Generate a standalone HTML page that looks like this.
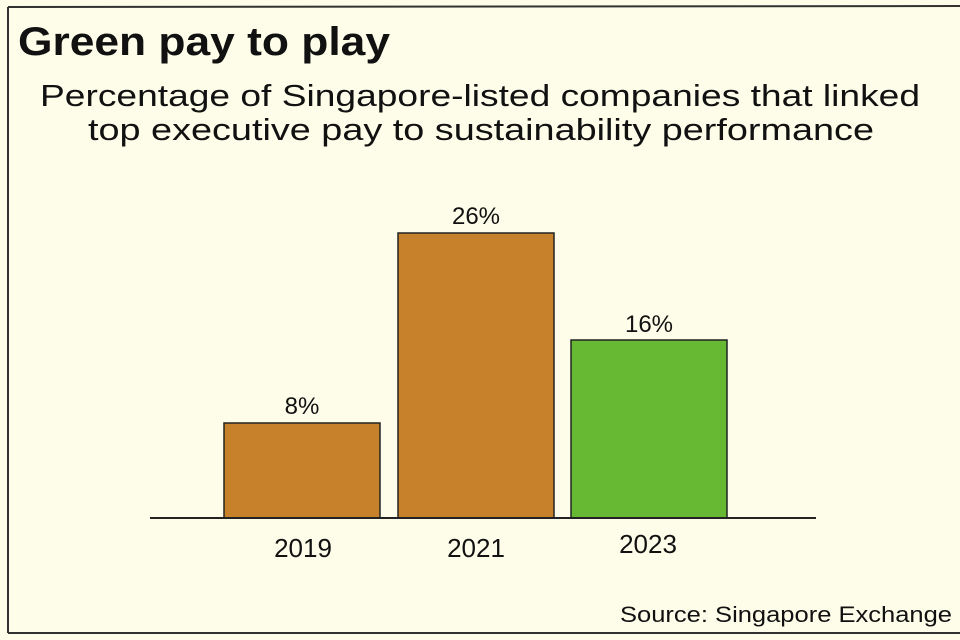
<!DOCTYPE html>
<html><head><meta charset="utf-8"><style>
html,body{margin:0;padding:0;background:#fdfde9;}
svg{display:block;}
text{font-family:"Liberation Sans",sans-serif;fill:#111;}
</style></head><body>
<svg width="960" height="640" viewBox="0 0 960 640" xmlns="http://www.w3.org/2000/svg">
<rect x="0" y="0" width="960" height="640" fill="#fdfde9"/>
<path d="M8 7 L960 6 M8 7 L8 633 M8 633 L960 633" stroke="#333" stroke-width="2" fill="none"/>
<text x="18" y="55" font-size="40" font-weight="bold" textLength="372" lengthAdjust="spacingAndGlyphs">Green pay to play</text>
<text x="40" y="106" font-size="31" textLength="880" lengthAdjust="spacingAndGlyphs">Percentage of Singapore-listed companies that linked</text>
<text x="88" y="140" font-size="31" textLength="786" lengthAdjust="spacingAndGlyphs">top executive pay to sustainability performance</text>
<rect x="224" y="423" width="156" height="95" fill="#c6812a" stroke="#222" stroke-width="1.5"/>
<rect x="398" y="233" width="156" height="285" fill="#c6812a" stroke="#222" stroke-width="1.5"/>
<rect x="571" y="340" width="156" height="178" fill="#67b832" stroke="#222" stroke-width="1.5"/>
<line x1="150" y1="518" x2="816" y2="518" stroke="#222" stroke-width="2"/>
<text x="302" y="414" font-size="24" text-anchor="middle">8%</text>
<text x="476" y="224" font-size="24" text-anchor="middle">26%</text>
<text x="649" y="332" font-size="24" text-anchor="middle">16%</text>
<text x="303" y="557" font-size="26" text-anchor="middle">2019</text>
<text x="476" y="557" font-size="26" text-anchor="middle">2021</text>
<text x="648" y="553" font-size="26" text-anchor="middle">2023</text>
<text x="620" y="622" font-size="22" textLength="332" lengthAdjust="spacingAndGlyphs">Source: Singapore Exchange</text>
</svg>
</body></html>
